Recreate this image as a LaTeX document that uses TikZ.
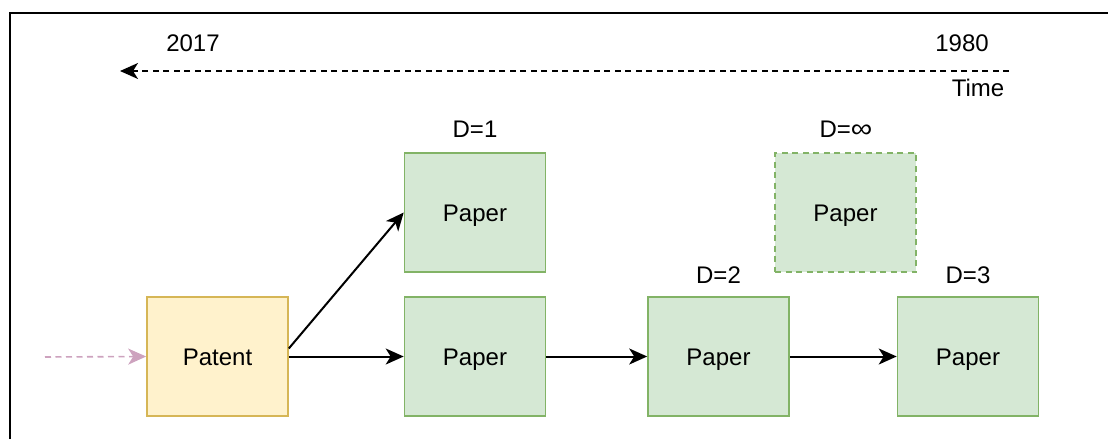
\documentclass[tikz,border=0pt]{standalone}
\usepackage{fontspec}
\usepackage{graphicx}
\setmainfont{Liberation Sans}
\usetikzlibrary{arrows.meta}
\definecolor{greenfill}{HTML}{D5E8D4}
\definecolor{greenline}{HTML}{82B366}
\definecolor{yellowfill}{HTML}{FFF2CC}
\definecolor{yellowline}{HTML}{D6B656}
\definecolor{pinkline}{HTML}{CDA2BE}
\tikzset{
  box/.style={draw, line width=1.6pt, minimum width=141pt, minimum height=119pt, inner sep=0pt, text height=17.2pt, text depth=0pt, font=\fontsize{24}{28}\selectfont},
  paper/.style={box, fill=greenfill, draw=greenline},
  patent/.style={box, fill=yellowfill, draw=yellowline},
  lbl/.style={font=\fontsize{24}{28}\selectfont, inner sep=0pt},
  conn/.style={line width=2pt, -{Stealth[length=18pt, width=16pt, inset=5pt]}},
}
\begin{document}
\begin{tikzpicture}[x=1pt, y=-1pt]
\useasboundingbox (0,0) rectangle (1108,439);
\draw[line width=1.8pt] (10,439) -- (10,13) -- (1108,13);

% time axis
\coordinate (tstart) at (1009,71);
\coordinate (tend) at (120,71);
\draw[conn, dash pattern=on 6pt off 4.5pt] (tstart) -- (tend);
\node[lbl] (y2017) at (193,43) {2017};
\node[lbl] (y1980) at (962,43) {1980};
\node[lbl] (time) at (978,88) {Time};

% boxes
\node[patent] (patent) at (217.5,356.5) {Patent};
\node[paper] (p1) at (475,212.5) {Paper};
\node[paper] (p2) at (475,356.5) {Paper};
\node[paper] (p3) at (718.5,356.5) {Paper};
\node[paper] (p4) at (968,356.5) {Paper};
\node[paper, dash pattern=on 6pt off 4.5pt] (pinf) at (845.5,212.5) {Paper};

% labels
\node[lbl] (d1) at (475,129) {D=1};
\node[lbl] (dinf) at (846,129) {D=\scalebox{1.25}[1.1]{∞}};
\node[lbl] (d2) at (718.5,275) {D=2};
\node[lbl] (d3) at (968,275) {D=3};

% connectors
\coordinate (in) at (45,357);
\draw[line width=1.6pt, pinkline, dash pattern=on 6pt off 4.5pt, -{Stealth[length=18pt, width=16pt, inset=5pt, fill=pinkline]}] (in) -- (patent.west);
\draw[conn] ([yshift=8pt]patent.east) -- (p1.west);
\draw[conn] (patent.east) -- (p2.west);
\draw[conn] (p2.east) -- (p3.west);
\draw[conn] (p3.east) -- (p4.west);
\end{tikzpicture}
\end{document}
